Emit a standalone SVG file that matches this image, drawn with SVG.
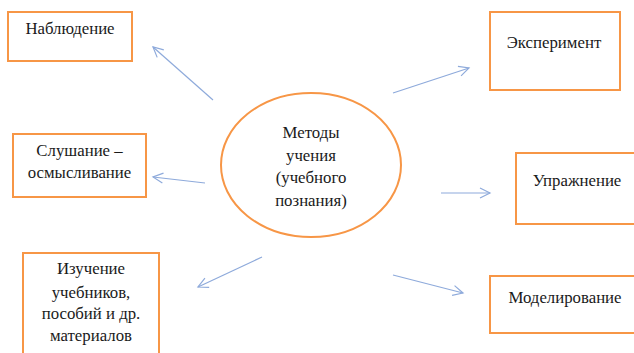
<svg xmlns="http://www.w3.org/2000/svg" width="634" height="353" viewBox="0 0 634 353">
<style>
.box{fill:#fff;stroke:#f79646;stroke-width:2}
.t{font-family:"Liberation Serif","Times New Roman",serif;font-size:16.8px;fill:#1a1a1a;text-anchor:middle}
.c{stroke:#8eaadb;stroke-width:1.2;fill:none;marker-end:url(#ah)}
</style>
<defs>
<marker id="ah" markerUnits="userSpaceOnUse" markerWidth="14" markerHeight="14" refX="11" refY="6" orient="auto">
<path d="M1,1 L11,6 L1,11" fill="none" stroke="#8eaadb" stroke-width="1.2"/>
</marker>
</defs>
<rect width="634" height="353" fill="#fff"/>
<g id="connectors">
<line class="c" x1="213" y1="100" x2="153" y2="47"/>
<line class="c" x1="205" y1="183" x2="153" y2="177"/>
<line class="c" x1="262" y1="257" x2="198" y2="287"/>
<line class="c" x1="393" y1="93" x2="469" y2="68"/>
<line class="c" x1="441" y1="193" x2="490" y2="193"/>
<line class="c" x1="393" y1="275" x2="463" y2="293"/>
</g>
<g id="center">
<ellipse cx="311" cy="165" rx="90" ry="72" fill="#fff" stroke="#f79646" stroke-width="2"/>
<text class="t" x="311" y="138">Методы</text>
<text class="t" x="311" y="161">учения</text>
<text class="t" x="311" y="183">(учебного</text>
<text class="t" x="311" y="206">познания)</text>
</g>
<g id="n1">
<rect class="box" x="8" y="12" width="124" height="49"/>
<text class="t" x="70" y="34">Наблюдение</text>
</g>
<g id="n2">
<rect class="box" x="13" y="134" width="133" height="63"/>
<text class="t" x="79.5" y="156">Слушание –</text>
<text class="t" x="79.5" y="178">осмысливание</text>
</g>
<g id="n3">
<rect class="box" x="23" y="253" width="136" height="110"/>
<text class="t" x="91" y="274">Изучение</text>
<text class="t" x="91" y="298">учебников,</text>
<text class="t" x="91" y="319">пособий и др.</text>
<text class="t" x="91" y="341">материалов</text>
</g>
<g id="n4">
<rect class="box" x="490" y="12" width="130" height="78"/>
<text class="t" x="554" y="48">Эксперимент</text>
</g>
<g id="n5">
<rect class="box" x="516" y="153" width="130" height="71"/>
<text class="t" x="577" y="186">Упражнение</text>
</g>
<g id="n6">
<rect class="box" x="490" y="276" width="156" height="57"/>
<text class="t" x="565" y="303">Моделирование</text>
</g>
</svg>
